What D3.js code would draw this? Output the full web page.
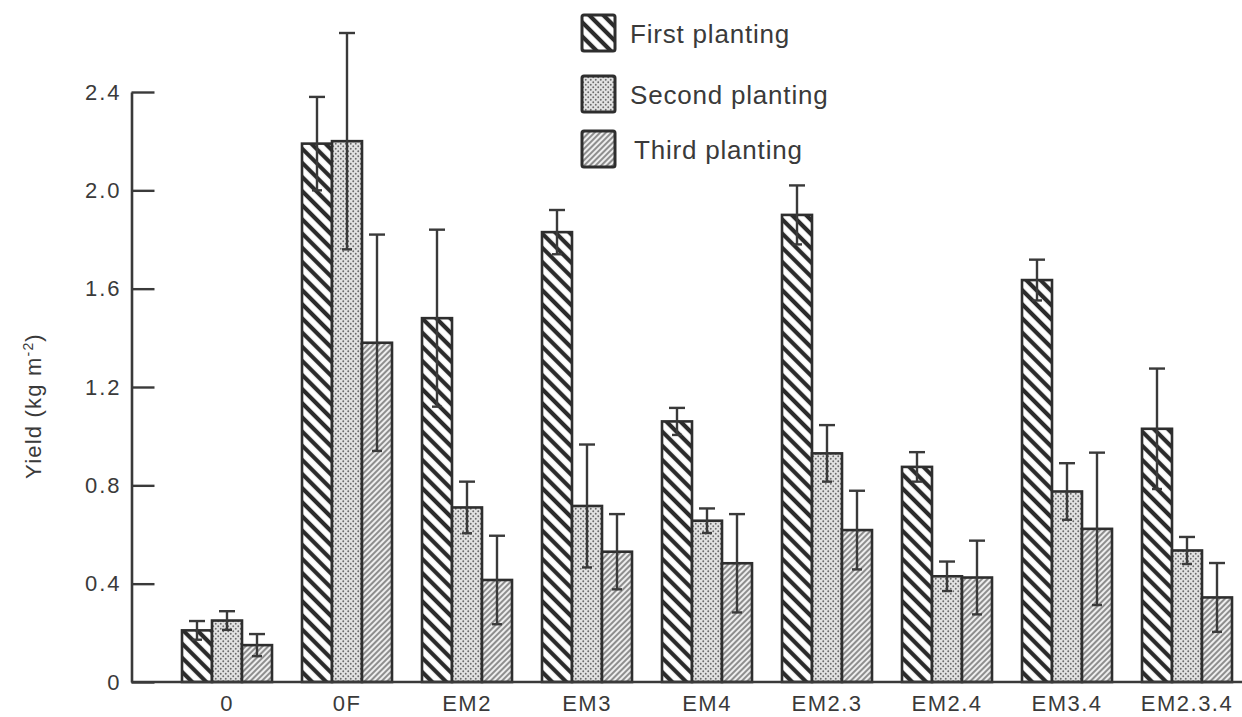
<!DOCTYPE html>
<html>
<head>
<meta charset="utf-8">
<script src="https://cdn.jsdelivr.net/npm/d3@7"></script>
<style>
  body { margin: 0; background: #fff; }
  svg text { font-family: "Liberation Sans", Arial, sans-serif; fill: #3a3a3a; }
</style>
</head>
<body>
<div id="chart"></div>
<script>
const width = 1242;
const height = 717;

// data
const categories = ["0", "0F", "EM2", "EM3", "EM4", "EM2.3", "EM2.4", "EM3.4", "EM2.3.4"];
const seriesNames = ["First planting", "Second planting", "Third planting"];

const firstPlanting = [0.21, 2.19, 1.48, 1.83, 1.06, 1.90, 0.875, 1.635, 1.03];
const firstErr      = [0.038, 0.19, 0.36, 0.09, 0.055, 0.12, 0.06, 0.083, 0.245];
const secondPlanting = [0.25, 2.20, 0.71, 0.716, 0.656, 0.93, 0.43, 0.775, 0.535];
const secondErr      = [0.038, 0.44, 0.105, 0.25, 0.05, 0.115, 0.06, 0.115, 0.055];
const thirdPlanting = [0.15, 1.38, 0.415, 0.53, 0.483, 0.618, 0.425, 0.623, 0.344];
const thirdErr      = [0.045, 0.44, 0.18, 0.153, 0.2, 0.16, 0.15, 0.31, 0.14];

const yTicks = [0, 0.4, 0.8, 1.2, 1.6, 2.0, 2.4];
const yTickLabels = ["0", "0.4", "0.8", "1.2", "1.6", "2.0", "2.4"];

const seriesValues = [firstPlanting, secondPlanting, thirdPlanting];
const seriesErrs = [firstErr, secondErr, thirdErr];
const patternIds = ["hatchWide", "stipple", "hatchFine"];

const rows = categories.map((c, i) => ({
    cat: c,
    values: seriesValues.map((vals, s) => ({ s: s, v: vals[i], e: seriesErrs[s][i] }))
}));

const svg = d3.select("#chart")
    .append("svg")
    .attr("width", width)
    .attr("height", height);

// fill patterns
const defs = svg.append("defs");

const p1 = defs.append("pattern")
    .attr("id", "hatchWide")
    .attr("patternUnits", "userSpaceOnUse")
    .attr("width", 10).attr("height", 10)
    .attr("patternTransform", "rotate(-45)");
p1.append("rect").attr("width", 10).attr("height", 10).attr("fill", "#fff");
p1.append("line").attr("x1", 5).attr("y1", 0).attr("x2", 5).attr("y2", 10)
    .attr("stroke", "#2b2b2b").attr("stroke-width", 4.2);

const p2 = defs.append("pattern")
    .attr("id", "stipple")
    .attr("patternUnits", "userSpaceOnUse")
    .attr("width", 5).attr("height", 5);
p2.append("rect").attr("width", 5).attr("height", 5).attr("fill", "#e2e2e2");
p2.append("circle").attr("cx", 1.25).attr("cy", 1.25).attr("r", 0.95).attr("fill", "#6a6a6a");
p2.append("circle").attr("cx", 3.75).attr("cy", 3.75).attr("r", 0.95).attr("fill", "#6a6a6a");

const p3 = defs.append("pattern")
    .attr("id", "hatchFine")
    .attr("patternUnits", "userSpaceOnUse")
    .attr("width", 4).attr("height", 4)
    .attr("patternTransform", "rotate(45)");
p3.append("rect").attr("width", 4).attr("height", 4).attr("fill", "#eeeeee");
p3.append("line").attr("x1", 2).attr("y1", 0).attr("x2", 2).attr("y2", 4)
    .attr("stroke", "#5a5a5a").attr("stroke-width", 1.3);

// scales
const x0 = d3.scaleBand()
    .domain(categories)
    .range([167, 1247])
    .paddingInner(0.25)
    .paddingOuter(0.125);

const x1 = d3.scaleBand()
    .domain([0, 1, 2])
    .range([0, x0.bandwidth()]);

const y = d3.scaleLinear()
    .domain([0, 2.4])
    .range([682, 92]);

const axisX = 131.5;

// bars
const groups = svg.append("g").selectAll("g")
    .data(rows)
    .enter().append("g")
    .attr("transform", d => `translate(${x0(d.cat)},0)`);

groups.selectAll("rect")
    .data(d => d.values)
    .enter().append("rect")
    .attr("x", d => x1(d.s))
    .attr("y", d => y(d.v))
    .attr("width", x1.bandwidth())
    .attr("height", d => y(0) - y(d.v))
    .attr("fill", d => `url(#${patternIds[d.s]})`)
    .attr("stroke", "#2e2e2e")
    .attr("stroke-width", 2.6);

// error bars
const err = groups.selectAll("g.err")
    .data(d => d.values)
    .enter().append("g")
    .attr("class", "err")
    .attr("stroke", "#3a3a3a")
    .attr("stroke-width", 2.4);

err.append("line")
    .attr("x1", d => x1(d.s) + x1.bandwidth() / 2)
    .attr("x2", d => x1(d.s) + x1.bandwidth() / 2)
    .attr("y1", d => y(d.v + d.e))
    .attr("y2", d => y(d.v - d.e));
err.append("line")
    .attr("x1", d => x1(d.s) + x1.bandwidth() / 2 - 8)
    .attr("x2", d => x1(d.s) + x1.bandwidth() / 2 + 8)
    .attr("y1", d => y(d.v + d.e))
    .attr("y2", d => y(d.v + d.e));
err.append("line")
    .attr("x1", d => x1(d.s) + x1.bandwidth() / 2 - 5)
    .attr("x2", d => x1(d.s) + x1.bandwidth() / 2 + 5)
    .attr("y1", d => y(d.v - d.e))
    .attr("y2", d => y(d.v - d.e));

// y axis, ticks pointing into the plot
const yAxis = svg.append("g")
    .attr("transform", `translate(${axisX},0)`)
    .call(d3.axisLeft(y)
        .tickValues(yTicks)
        .tickFormat((d, i) => yTickLabels[i])
        .tickSizeInner(-23)
        .tickSizeOuter(0)
        .tickPadding(10));
yAxis.select(".domain").attr("stroke", "#3a3a3a").attr("stroke-width", 2.6);
yAxis.selectAll(".tick line").attr("stroke", "#3a3a3a").attr("stroke-width", 2.4);
yAxis.selectAll(".tick text")
    .attr("font-size", 22)
    .attr("letter-spacing", 2)
    .style("font-family", "'Liberation Sans', Arial, sans-serif")
    .attr("fill", "#3a3a3a");

// x axis
svg.append("line")
    .attr("x1", axisX).attr("x2", width)
    .attr("y1", y(0)).attr("y2", y(0))
    .attr("stroke", "#3a3a3a")
    .attr("stroke-width", 2.6);

const xAxis = svg.append("g")
    .attr("transform", `translate(0,${y(0)})`)
    .call(d3.axisBottom(x0).tickSize(0).tickPadding(13));
xAxis.select(".domain").remove();
xAxis.selectAll(".tick text")
    .attr("font-size", 22)
    .attr("letter-spacing", 1.5)
    .style("font-family", "'Liberation Sans', Arial, sans-serif")
    .attr("fill", "#3a3a3a");

// y title
const yTitle = svg.append("text")
    .attr("transform", "translate(41,406) rotate(-90)")
    .attr("text-anchor", "middle")
    .attr("font-size", 22)
    .attr("letter-spacing", 1.2);
yTitle.append("tspan").text("Yield (kg m");
yTitle.append("tspan").attr("dy", -8).attr("font-size", 14).text("-2");
yTitle.append("tspan").attr("dy", 8).text(")");

// legend
const legendTop = [15, 76, 131];
const legend = svg.append("g").selectAll("g")
    .data(seriesNames)
    .enter().append("g")
    .attr("transform", (d, i) => `translate(582,${legendTop[i]})`);

legend.append("rect")
    .attr("width", 33)
    .attr("height", 36)
    .attr("rx", 2)
    .attr("fill", (d, i) => `url(#${patternIds[i]})`)
    .attr("stroke", "#2e2e2e")
    .attr("stroke-width", 3);

legend.append("text")
    .attr("x", (d, i) => i === 2 ? 52 : 48)
    .attr("y", 28)
    .attr("font-size", 26)
    .attr("letter-spacing", 0.8)
    .text(d => d);
</script>
</body>
</html>
